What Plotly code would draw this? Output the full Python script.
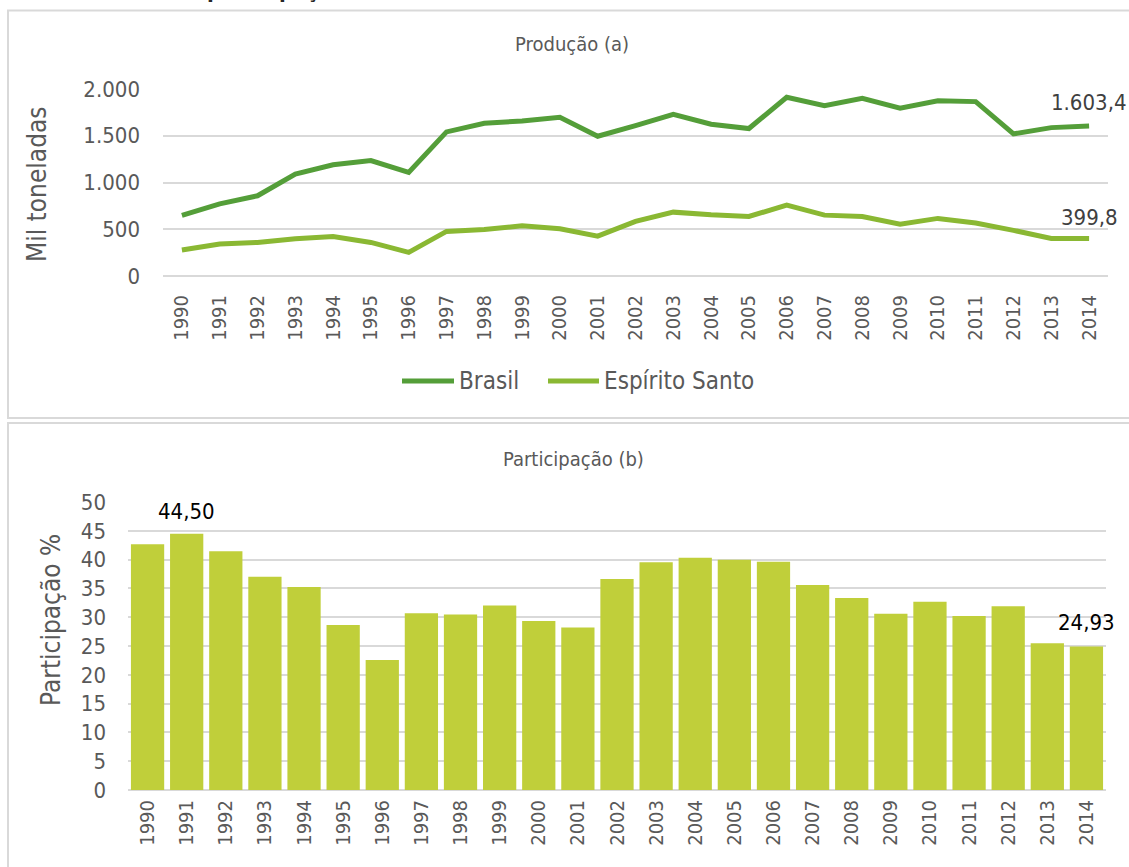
import plotly.graph_objects as go

W, H = 1129, 867

anos = [str(a) for a in range(1990, 2015)]
brasil = [648, 772, 858, 1089, 1189, 1235, 1107, 1541, 1633, 1658, 1697, 1495,
          1609, 1730, 1623, 1577, 1911, 1822, 1900, 1794, 1875, 1865, 1520, 1587, 1603.4]
espirito_santo = [278, 342, 359, 399, 423, 359, 253, 477, 498, 537, 505, 427,
                  584, 683, 655, 637, 758, 651, 637, 555, 616, 566, 488, 402, 399.8]
participacao = [42.68, 44.50, 41.46, 37.02, 35.24, 28.66, 22.55, 30.68, 30.45, 32.01,
                29.35, 28.20, 36.62, 39.56, 40.31, 39.97, 39.62, 35.58, 33.33, 30.62,
                32.70, 30.22, 31.89, 25.49, 24.93]
y1_ticks = [0, 500, 1000, 1500, 2000]
y1_ticklabels = ["0", "500", "1.000", "1.500", "2.000"]
y2_ticks = list(range(0, 55, 5))

C_BR = "#549e39"
C_ES = "#8ab833"
C_BAR = "#c0cf3a"
GRID = "#d9d9d9"
TXT = "#595959"
FONT = "DejaVu Sans Condensed, DejaVu Sans, sans-serif"

def px(x):
    return x / W

def py(y):
    return 1 - y / H

fig = go.Figure()
fig.add_trace(go.Scatter(x=anos, y=brasil, mode="lines", name="Brasil",
                         line=dict(color=C_BR, width=5), xaxis="x", yaxis="y",
                         showlegend=False))
fig.add_trace(go.Scatter(x=anos, y=espirito_santo, mode="lines", name="Espírito Santo",
                         line=dict(color=C_ES, width=5), xaxis="x", yaxis="y",
                         showlegend=False))
fig.add_trace(go.Bar(x=anos, y=participacao, marker=dict(color=C_BAR, line=dict(width=0)),
                     xaxis="x2", yaxis="y2", showlegend=False))

xfont = dict(family=FONT, size=20, color=TXT)
yfont = dict(family=FONT, size=22, color=TXT)
n = len(anos)

fig.update_layout(
    width=W, height=H,
    margin=dict(l=0, r=0, t=0, b=0, pad=0, autoexpand=False),
    paper_bgcolor="white", plot_bgcolor="white",
    bargap=0.15,
    showlegend=False,
    xaxis=dict(domain=[px(163), px(1108)], anchor="y", type="category",
               range=[-0.5, n - 0.5], automargin=False, showline=False, tickfont=xfont,
               tickangle=-90, ticks="", ticklabelstandoff=14, showgrid=False),
    yaxis=dict(domain=[py(276), py(89)], anchor="x", range=[0, 2000], automargin=False,
               tickvals=y1_ticks, ticktext=y1_ticklabels, showgrid=True, gridcolor=GRID,
               gridwidth=1.5, zeroline=True, zerolinecolor=GRID, zerolinewidth=1.5,
               showline=False, tickfont=yfont, ticks="", ticklabelstandoff=22),
    xaxis2=dict(domain=[px(128), px(1106)], anchor="y2", type="category",
                range=[-0.5, n - 0.5], automargin=False, showline=False, tickfont=xfont,
                tickangle=-90, ticks="", ticklabelstandoff=5, showgrid=False),
    yaxis2=dict(domain=[py(790), py(502)], anchor="x2", range=[0, 50], automargin=False,
                tickvals=y2_ticks, showgrid=True, gridcolor=GRID, gridwidth=1.5,
                zeroline=True, zerolinecolor=GRID, zerolinewidth=1.5,
                showline=False, tickfont=yfont, ticks="", ticklabelstandoff=21),
)

shapes = [
    dict(type="rect", xref="paper", yref="paper", x0=px(8), x1=px(1135), y0=py(418), y1=py(10.5),
         line=dict(color=GRID, width=2), fillcolor="rgba(0,0,0,0)", layer="below"),
    dict(type="rect", xref="paper", yref="paper", x0=px(8), x1=px(1135), y0=py(875), y1=py(423),
         line=dict(color=GRID, width=2), fillcolor="rgba(0,0,0,0)", layer="below"),
    dict(type="line", xref="paper", yref="paper", x0=px(402), x1=px(454), y0=py(381), y1=py(381),
         line=dict(color=C_BR, width=5)),
    dict(type="line", xref="paper", yref="paper", x0=px(548), x1=px(599), y0=py(381), y1=py(381),
         line=dict(color=C_ES, width=5)),
]

i_last = n - 1
i_max = participacao.index(max(participacao))

def pa(text, x, y, size, color=TXT, angle=0, xanchor="center", yanchor="middle"):
    return dict(text=text, xref="paper", yref="paper",
                x=px(x), y=py(y), xanchor=xanchor, yanchor=yanchor, textangle=angle,
                showarrow=False, font=dict(family=FONT, size=size, color=color))

annotations = [
    dict(text="<b>participação</b>", xref="paper", yref="paper", x=px(205), y=1,
         xanchor="left", yanchor="bottom", yshift=-5, showarrow=False,
         font=dict(family=FONT, size=22, color="#262626")),
    pa("Produção (a)", 572, 44, 20),
    pa("Participação (b)", 573, 459, 20),
    pa("Mil toneladas", 37, 184, 26, angle=-90),
    pa("Participação %", 51, 620, 26, angle=-90),
    pa("Brasil", 457, 381, 24, xanchor="left"),
    pa("Espírito Santo", 602, 381, 24, xanchor="left"),
    dict(text="1.603,4", xref="x", yref="y", x=i_last, y=brasil[-1], yshift=24,
         showarrow=False, font=dict(family=FONT, size=22, color="#404040")),
    dict(text="399,8", xref="x", yref="y", x=i_last, y=espirito_santo[-1], yshift=21,
         showarrow=False, font=dict(family=FONT, size=22, color="#404040")),
    dict(text="44,50", xref="x2", yref="y2", x=i_max, y=participacao[i_max], yshift=22,
         showarrow=False, font=dict(family=FONT, size=22, color="black")),
    dict(text="24,93", xref="x2", yref="y2", x=i_last, y=participacao[-1], yshift=24,
         showarrow=False, font=dict(family=FONT, size=22, color="black")),
]

fig.update_layout(shapes=shapes, annotations=annotations)
fig.write_html("out.html", config={"displayModeBar": False},
               post_script="document.body.style.margin='0px';document.body.style.overflow='hidden';")
